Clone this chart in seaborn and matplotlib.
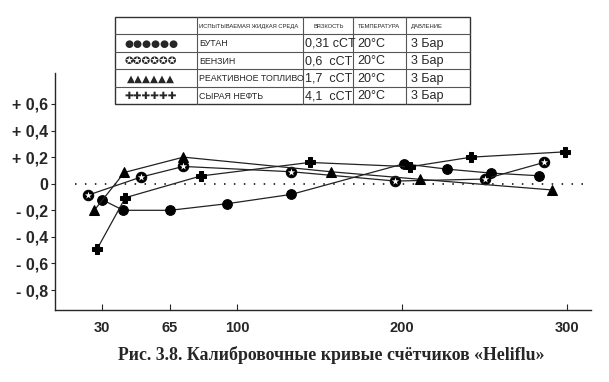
import numpy as np
import pandas as pd
import matplotlib
matplotlib.use("Agg")
import matplotlib.pyplot as plt
import seaborn as sns

# data
butan_x = [30, 41, 65, 95, 133, 201, 227, 254, 283]
butan_y = [-0.12, -0.20, -0.20, -0.15, -0.08, 0.15, 0.11, 0.08, 0.06]
benzin_x = [23, 50, 72, 133, 196, 250, 286]
benzin_y = [-0.085, 0.05, 0.13, 0.09, 0.02, 0.035, 0.16]
jet_x = [26, 41.5, 72, 157, 211, 291]
jet_y = [-0.20, 0.085, 0.20, 0.09, 0.033, -0.047]
crude_x = [27.5, 42, 81, 144, 205, 242, 299]
crude_y = [-0.49, -0.105, 0.058, 0.16, 0.128, 0.20, 0.24]

x_ticks = [30, 65, 100, 200, 300]
y_ticks = [0.6, 0.4, 0.2, 0, -0.2, -0.4, -0.6, -0.8]
y_labels = ["+ 0,6", "+ 0,4", "+ 0,2", "0", "- 0,2", "- 0,4", "- 0,6", "- 0,8"]

fluids = ["БУТАН", "БЕНЗИН", "РЕАКТИВНОЕ ТОПЛИВО", "СЫРАЯ НЕФТЬ"]
symbols = ["●●●●●●", "✪✪✪✪✪✪", "▲▲▲▲▲▲", "✚✚✚✚✚✚"]
viscosity = ["0,31 cCT", "0,6  cCT", "1,7  cCT", "4,1  cCT"]
temperature = ["20°C"] * 4
pressure = ["3 Бар"] * 4
headers = ["ИСПЫТЫВАЕМАЯ ЖИДКАЯ СРЕДА", "ВЯЗКОСТЬ", "ТЕМПЕРАТУРА", "ДАВЛЕНИЕ"]
title = "Рис. 3.8. Калибровочные кривые счётчиков «Heliflu»"

sns.set_style("ticks")
plt.rcParams['font.family'] = ['Liberation Sans', 'DejaVu Sans']

# the x axis of the original is not linear: piecewise between the ticks
xv = np.array([-100, 30, 65, 100, 200, 300, 500], dtype=float)
xp = np.array([-150.6, 102, 170, 237, 402, 567, 897], dtype=float)


def fwd(v):
    return np.interp(v, xv, xp)


def inv(p):
    return np.interp(p, xp, xv)


fig = plt.figure(figsize=(6.09, 3.82), dpi=100)
ax = fig.add_axes([55 / 609, 72 / 382, 536 / 609, 237 / 382])
ax.set_xscale('function', functions=(fwd, inv))

df = pd.concat([
    pd.DataFrame({"x": butan_x, "y": butan_y, "fluid": "butan"}),
    pd.DataFrame({"x": benzin_x, "y": benzin_y, "fluid": "benzin"}),
    pd.DataFrame({"x": jet_x, "y": jet_y, "fluid": "jet"}),
    pd.DataFrame({"x": crude_x, "y": crude_y, "fluid": "crude"}),
])

ax.plot([16, 312], [0, 0], color="black", lw=1.1, linestyle=(0, (1, 5.5)))

marks = {"butan": ("o", 7), "benzin": ("o", 7.5), "jet": ("^", 7.5), "crude": ("P", 7)}
for fl, g in df.groupby("fluid", sort=False):
    m, s = marks[fl]
    sns.lineplot(data=g, x="x", y="y", ax=ax, color="#222222", lw=0.9,
                 marker=m, markersize=s, markerfacecolor="black",
                 markeredgecolor="black", estimator=None, sort=False)
g = df[df["fluid"] == "benzin"]
sns.scatterplot(data=g, x="x", y="y", ax=ax, marker="*", s=30, color="white",
                edgecolor="white", linewidth=0, zorder=5)

ax.set_xlim(5.8, 314.5)
ax.set_ylim(-0.95, 0.833)
ax.set_xticks(x_ticks)
ax.set_xticklabels([str(t) for t in x_ticks])
ax.set_yticks(y_ticks)
ax.set_yticklabels(y_labels)
ax.minorticks_off()
ax.tick_params(axis="x", direction="in", length=4, width=0.8, pad=8)
ax.tick_params(axis="y", direction="out", length=3, width=0.8, pad=2)
for lab in ax.get_xticklabels():
    lab.set_fontweight("bold")
    lab.set_fontsize(10.5)
for lab in ax.get_yticklabels():
    lab.set_fontweight("bold")
    lab.set_fontsize(11.5)
ax.set_xlabel("")
ax.set_ylabel("")
sns.despine(ax=ax)
for sp in ax.spines.values():
    sp.set_linewidth(1.0)

# legend table drawn on an overlay in pixel coordinates
ov = fig.add_axes([0, 0, 1, 1], zorder=10)
ov.set_xlim(0, 609)
ov.set_ylim(382, 0)
ov.axis("off")
cols = [115, 197, 303, 353, 406, 470]
top, rh = 17, 17.4
nrows = 5
ov.add_patch(plt.Rectangle((cols[0], top), cols[-1] - cols[0], rh * nrows,
                           fill=True, facecolor="white", edgecolor="#333333", lw=1.0))
for c in cols[1:-1]:
    ov.plot([c, c], [top, top + rh * nrows], color="#555555", lw=0.8)
for r in range(1, nrows):
    ov.plot([cols[0], cols[-1]], [top + rh * r, top + rh * r], color="#555555", lw=0.8)

hx = [199, 313, 358, 411]
for x, h in zip(hx, headers):
    ov.text(x, top + rh * 0.55, h, fontsize=4.2, va="center", ha="left")
for i in range(4):
    yc = top + rh * (i + 1.55)
    ov.text(151, yc, symbols[i], fontsize=7.5, family=['DejaVu Sans'], va="center",
            ha="center", fontweight="bold")
    ov.text(199, yc, fluids[i], fontsize=6.4, va="center", ha="left")
    ov.text(305, yc, viscosity[i], fontsize=9, va="center", ha="left")
    ov.text(357, yc, temperature[i], fontsize=9, va="center", ha="left")
    ov.text(411, yc, pressure[i], fontsize=9, va="center", ha="left")

fig.text(331 / 609, 1 - 355 / 382, title, ha="center", va="center", fontsize=12.8,
         fontweight="bold", family=['Liberation Serif', 'DejaVu Serif'])

fig.savefig("out.png", dpi=100)
